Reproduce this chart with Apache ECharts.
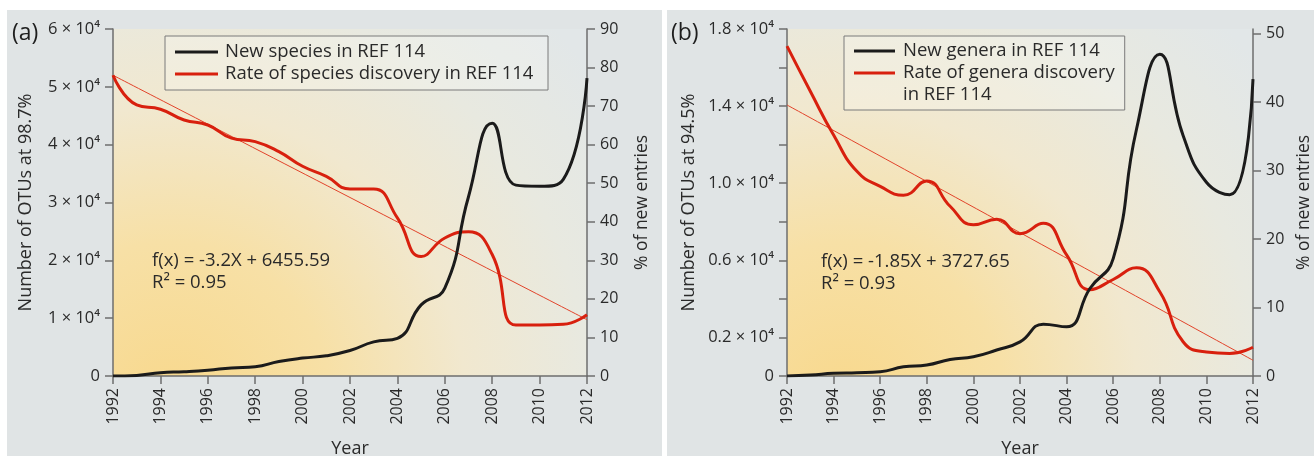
<!DOCTYPE html>
<html><head><meta charset="utf-8">
<script src="https://cdn.jsdelivr.net/npm/echarts@6.0.0/dist/echarts.min.js"></script>
<style>
html,body{margin:0;padding:0;background:#fff;}
#wrap{position:relative;width:1314px;height:456px;background:#fff;overflow:hidden}
.panel{position:absolute;background:#e0e4e5;top:10px;height:446px}
#chart{position:absolute;left:0;top:0;width:1314px;height:456px}
</style></head><body>
<div id="wrap">
<div class="panel" style="left:7px;width:655px"></div>
<div class="panel" style="left:667px;width:647px"></div>
<div id="chart"></div>
</div>
<script>
// ---- data ----
const years = [1992,1993,1994,1995,1996,1997,1998,1999,2000,2001,2002,2003,2004,2005,2006,2007,2008,2009,2010,2011,2012];
const speciesNew  = [0,100,570,740,1000,1400,1600,2500,3100,3500,4400,5900,6500,12300,15200,31000,43700,33000,32800,34000,51500];
const speciesRate = [78.0,70.3,69.2,66.4,65.1,61.7,60.8,58.2,54.4,51.8,48.5,48.5,41.0,31.0,35.8,37.4,31.5,13.2,13.2,13.4,15.9];
const generaNew   = [0,50,140,170,220,480,570,860,1000,1350,1770,2690,2550,4540,6090,12800,16690,12470,10050,9400,15400];
const generaRate  = [48.2,41.6,35.2,29.9,27.7,26.4,28.5,24.8,22.1,22.9,20.8,22.3,17.7,12.6,14.1,15.8,12.3,5.0,3.5,3.3,4.2];
const fitYears    = [1992,2012];
const speciesFit  = [78.0,14.6];
const generaFit   = [39.6,2.3];
const speciesTickValues = [0,10000,20000,30000,40000,50000,60000];
const speciesTickLabels = ['0','1 × 10⁴','2 × 10⁴','3 × 10⁴','4 × 10⁴','5 × 10⁴','6 × 10⁴'];
const generaTickValues  = [0,2000,6000,10000,14000,18000];
const generaTickLabels  = ['0','0.2 × 10⁴','0.6 × 10⁴','1.0 × 10⁴','1.4 × 10⁴','1.8 × 10⁴'];
const legendA = ['New species in REF 114','Rate of species discovery in REF 114'];
const legendB = ['New genera in REF 114','Rate of genera discovery'];

const FONT = "'Open Sans', 'DejaVu Sans', sans-serif";
const TXT = '#2a2a2a';
const AX = '#6e6e6e';
const BLACK = '#1b1b1b';
const RED = '#d8200e';

function pairs(xs, ys){ return xs.map((x,i)=>[x, ys[i]]); }
function lookup(vals, labs){ return v => { const i = vals.indexOf(Math.round(v)); return i>=0 ? labs[i] : ''; }; }

function bg(){
  return new echarts.graphic.RadialGradient(0.12, 1.08, 1.55, [
    {offset:0, color:'#f8d88c'},
    {offset:0.3, color:'#f7e0a6'},
    {offset:0.55, color:'#f1e8cf'},
    {offset:0.78, color:'#e8e9e0'},
    {offset:1, color:'#e2e7e8'}
  ]);
}
const axisLine = {show:true, lineStyle:{color:AX, width:1.5}};
const axisTick = {show:true, length:8, lineStyle:{color:AX, width:1.5}};
function xAxis(gi){
  return {type:'value', gridIndex:gi, min:1992, max:2012, interval:2,
    name:'Year', nameLocation:'middle', nameGap:64,
    nameTextStyle:{fontFamily:FONT, fontSize:18, color:TXT},
    axisLine, axisTick, splitLine:{show:false},
    axisLabel:{rotate:90, margin:12, fontFamily:FONT, fontSize:16, color:TXT, formatter:v=>String(v)}};
}
function yAxis(gi, pos, min, max, interval, fmt, name, gap, nameSize, labelSize){
  return {type:'value', gridIndex:gi, position:pos, min, max, interval,
    name, nameLocation:'middle', nameGap:gap, nameRotate:90,
    nameTextStyle:{fontFamily:FONT, fontSize:nameSize, color:TXT},
    axisLine, axisTick, splitLine:{show:false},
    axisLabel:{margin:13, fontFamily:FONT, fontSize:labelSize, color:TXT, formatter:fmt}};
}
function line(name, xi, yi, data, color, width, z){
  return {type:'line', name, xAxisIndex:xi, yAxisIndex:yi, data, smooth:0.5, symbol:'none',
    lineStyle:{color, width}, itemStyle:{color}, z, animation:false};
}

const chart = echarts.init(document.getElementById('chart'), null, {renderer:'canvas'});
chart.setOption({
  animation:false,
  backgroundColor:'transparent',
  grid:[
    {left:113, top:29, width:474, height:347, show:true, borderWidth:0, backgroundColor:bg(), containLabel:false, outerBoundsMode:'none'},
    {left:787, top:29, width:466, height:347, show:true, borderWidth:0, backgroundColor:bg(), containLabel:false, outerBoundsMode:'none'}
  ],
  xAxis:[xAxis(0), xAxis(1)],
  yAxis:[
    yAxis(0,'left',0,60000,10000, lookup(speciesTickValues, speciesTickLabels), 'Number of OTUs at 98.7%', 78, 18, 16.5),
    yAxis(0,'right',0,90,10, v=>String(v), '% of new entries', 46, 17.5, 16),
    yAxis(1,'left',0,18000,2000, lookup(generaTickValues, generaTickLabels), 'Number of OTUs at 94.5%', 89, 18, 16.5),
    yAxis(1,'right',0,50.7,10, v=>String(Math.round(v)), '% of new entries', 42, 17.5, 16)
  ],
  legend:[
    {left:165, top:36, orient:'vertical', padding:[5,10,5,10], itemGap:0, itemWidth:43, itemHeight:3,
     icon:'rect', backgroundColor:'rgba(255,255,255,0.22)', borderColor:'#7a7a7a', borderWidth:1,
     selectedMode:false, data:legendA, z:5,
     textStyle:{fontFamily:FONT, fontSize:18.5, color:TXT, lineHeight:22, width:313, padding:[0,0,0,2]}},
    {left:844, top:36, orient:'vertical', padding:[4,10,26,10], itemGap:0, itemWidth:41, itemHeight:3,
     icon:'rect', backgroundColor:'rgba(255,255,255,0.22)', borderColor:'#7a7a7a', borderWidth:1,
     selectedMode:false, data:legendB, z:5,
     textStyle:{fontFamily:FONT, fontSize:18.5, color:TXT, lineHeight:22, width:210, padding:[0,0,0,3]}}
  ],
  graphic:[
    {type:'text', x:12, y:33, z:100, style:{text:'(a)', font:'23px '+FONT, fill:'#1e1e1e', verticalAlign:'middle'}},
    {type:'text', x:671, y:33, z:100, style:{text:'(b)', font:'23px '+FONT, fill:'#1e1e1e', verticalAlign:'middle'}},
    {type:'text', x:152, y:261, z:100, style:{text:'f(x) = -3.2X + 6455.59', font:'18.5px '+FONT, fill:TXT, verticalAlign:'middle'}},
    {type:'text', x:152, y:283, z:100, style:{text:'R² = 0.95', font:'18.5px '+FONT, fill:TXT, verticalAlign:'middle'}},
    {type:'text', x:821, y:262, z:100, style:{text:'f(x) = -1.85X + 3727.65', font:'18.5px '+FONT, fill:TXT, verticalAlign:'middle'}},
    {type:'text', x:821, y:284, z:100, style:{text:'R² = 0.93', font:'18.5px '+FONT, fill:TXT, verticalAlign:'middle'}},
    {type:'text', x:903, y:95, z:100, style:{text:'in REF 114', font:'18.5px '+FONT, fill:TXT, verticalAlign:'middle'}}
  ],
  series:[
    line('Rate of species discovery in REF 114', 0, 1, pairs(years, speciesRate), RED, 3, 3),
    line('fitA', 0, 1, pairs(fitYears, speciesFit), '#e2432a', 1, 2),
    line('New species in REF 114', 0, 0, pairs(years, speciesNew), BLACK, 3, 4),
    line('Rate of genera discovery', 1, 3, pairs(years, generaRate), RED, 3, 3),
    line('fitB', 1, 3, pairs(fitYears, generaFit), '#e2432a', 1, 2),
    line('New genera in REF 114', 1, 2, pairs(years, generaNew), BLACK, 3, 4)
  ]
});
</script>
</body></html>
